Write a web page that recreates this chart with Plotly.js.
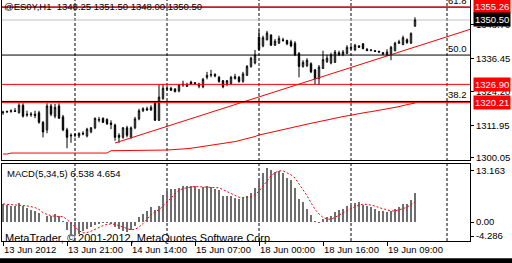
<!DOCTYPE html>
<html><head><meta charset="utf-8">
<script src="https://cdn.plot.ly/plotly-3.0.1.min.js"></script>
<style>html,body{margin:0;padding:0;background:#fff;overflow:hidden}</style>
</head><body><div id="chart" style="width:512px;height:263px"></div>
<script>
// ---------- data ----------
const symbol = '@ES0Y,H1';
const barIndex = Array.from({length:104}, (_, i) => i);
const openP = [1316.50,1316.75,1317.00,1317.25,1316.50,1319.25,1316.00,1315.75,1316.00,1316.50,
1313.00,1310.25,1319.00,1315.25,1319.00,1315.00,1310.25,1308.00,1308.25,1308.00,
1309.00,1308.00,1309.50,1311.00,1313.75,1314.50,1314.00,1312.75,1312.00,1308.25,
1307.50,1311.00,1307.50,1311.00,1314.25,1317.25,1318.00,1317.50,1320.00,1313.75,
1321.75,1325.25,1325.50,1325.25,1324.50,1327.00,1326.75,1327.75,1327.50,1327.00,
1326.00,1329.50,1330.25,1330.50,1329.50,1328.25,1327.25,1327.25,1329.00,1329.50,
1328.00,1330.25,1333.50,1334.75,1344.25,1341.00,1343.25,1345.00,1341.25,1342.00,
1343.25,1343.00,1342.50,1342.00,1338.25,1333.50,1333.75,1334.50,1332.25,1329.00,
1332.75,1335.25,1334.75,1335.00,1338.50,1337.75,1338.25,1340.00,1339.50,1341.00,
1341.75,1339.75,1339.25,1339.25,1339.00,1338.50,1337.75,1338.25,1339.25,1342.00,
1341.50,1343.25,1342.00,1348.25];
const highP = [1317.25,1317.25,1317.75,1318.25,1320.00,1320.00,1317.25,1316.75,1317.25,1317.25,
1313.50,1320.00,1319.75,1319.75,1320.00,1315.75,1311.00,1309.00,1309.00,1309.25,
1309.75,1311.00,1311.25,1314.75,1315.00,1314.75,1314.50,1313.75,1312.50,1309.00,
1311.25,1311.75,1311.50,1315.00,1318.00,1318.50,1318.75,1319.25,1320.75,1326.75,
1327.00,1326.25,1326.00,1325.50,1327.00,1328.25,1327.50,1328.25,1327.75,1327.50,
1329.25,1331.50,1332.25,1331.00,1330.00,1328.50,1328.50,1330.00,1330.75,1330.00,
1331.50,1334.00,1337.00,1339.50,1346.75,1344.75,1346.50,1345.25,1343.50,1344.75,
1344.00,1343.25,1343.25,1342.75,1338.75,1335.75,1336.50,1335.00,1332.50,1334.00,
1339.25,1337.75,1338.50,1339.50,1339.25,1339.50,1341.25,1341.00,1341.75,1341.25,
1342.00,1340.25,1339.75,1339.50,1339.25,1338.75,1339.75,1341.00,1342.50,1343.25,
1344.75,1343.75,1346.00,1351.50];
const lowP = [1315.75,1316.50,1316.50,1316.75,1316.25,1314.75,1315.00,1315.00,1314.50,1312.50,
1307.50,1309.00,1315.25,1314.50,1314.25,1309.75,1303.50,1305.50,1307.50,1307.25,
1308.25,1307.50,1309.00,1310.50,1313.00,1312.75,1312.00,1310.50,1306.25,1305.50,
1307.00,1307.50,1307.00,1310.50,1313.75,1316.75,1317.25,1317.25,1313.50,1313.50,
1321.25,1324.50,1324.50,1324.00,1324.00,1326.00,1326.00,1326.75,1326.75,1325.50,
1325.50,1328.75,1329.50,1329.50,1327.50,1325.50,1326.25,1326.75,1328.75,1327.50,
1327.50,1330.00,1333.00,1334.25,1339.25,1340.50,1343.00,1341.00,1341.00,1341.75,
1342.50,1341.25,1340.50,1337.25,1329.50,1333.00,1333.25,1331.00,1326.75,1326.75,
1332.50,1334.75,1334.25,1334.75,1337.25,1337.25,1338.00,1339.50,1339.25,1340.25,
1339.75,1339.25,1339.25,1338.75,1338.50,1337.75,1337.25,1335.75,1339.00,1341.75,
1341.25,1341.75,1341.75,1348.00];
const closeP = [1316.75,1317.00,1317.25,1317.00,1319.25,1315.25,1315.75,1316.00,1315.50,1313.00,
1309.50,1319.00,1316.00,1318.50,1314.50,1310.25,1307.50,1308.25,1308.50,1309.00,
1308.75,1310.50,1311.00,1314.50,1314.00,1313.00,1312.50,1312.25,1307.50,1307.50,
1311.00,1308.25,1311.00,1314.25,1317.25,1318.00,1317.50,1318.50,1313.75,1322.25,
1325.50,1325.50,1324.75,1324.25,1326.75,1326.75,1326.25,1327.00,1327.25,1326.25,
1328.75,1330.25,1330.50,1330.00,1328.00,1326.00,1328.25,1329.50,1329.75,1328.00,
1330.75,1333.50,1336.50,1337.75,1339.75,1344.00,1345.75,1341.25,1342.75,1343.75,
1343.00,1341.75,1341.00,1337.75,1333.50,1335.00,1335.75,1331.50,1329.00,1333.25,
1336.00,1336.50,1337.75,1338.75,1337.75,1338.75,1340.50,1340.50,1341.25,1340.50,
1340.00,1339.25,1339.50,1339.00,1338.75,1338.00,1338.75,1340.50,1342.00,1342.50,
1344.00,1342.25,1345.50,1350.50];
const maLine = [1301.40,1301.40,1301.75,1301.75,1301.75,1301.75,1301.75,1301.75,1301.75,1301.75,
1301.75,1301.75,1301.75,1301.75,1301.75,1301.75,1301.75,1301.75,1301.75,1301.75,
1301.75,1301.75,1301.75,1301.75,1301.75,1301.75,1301.75,1302.60,1302.60,1302.60,
1302.60,1302.60,1302.60,1302.60,1302.60,1302.60,1302.60,1302.85,1302.85,1302.85,
1302.85,1302.85,1302.95,1303.00,1303.10,1303.20,1303.35,1303.50,1303.70,1303.90,
1304.10,1304.30,1304.50,1304.70,1304.90,1305.10,1305.35,1305.65,1305.95,1306.30,
1306.65,1306.95,1307.25,1307.80,1308.35,1308.70,1309.00,1309.30,1309.60,1309.90,
1310.20,1310.55,1310.90,1311.25,1311.65,1312.00,1312.30,1312.65,1312.95,1313.30,
1313.60,1313.90,1314.20,1314.50,1314.80,1315.10,1315.40,1315.70,1315.95,1316.20,
1316.45,1316.70,1316.90,1317.15,1317.40,1317.60,1317.85,1318.05,1318.40,1318.75,
1319.15,1319.45,1319.75,1320.10];
const macdMain = [4.16,3.93,3.70,3.55,4.23,3.70,3.17,2.80,2.57,2.04,
0.10,1.28,1.28,1.89,1.44,0.30,-1.89,-2.65,-2.87,-2.65,
-2.12,-1.59,-1.13,-0.68,-0.45,-0.15,-0.23,-0.53,-1.21,-1.59,
-1.97,-2.19,-1.74,-0.83,1.13,1.89,2.57,3.40,2.65,3.55,
6.20,6.95,7.56,7.56,7.79,8.09,8.09,8.24,8.09,7.56,
7.94,8.09,7.94,7.56,7.33,5.82,5.82,5.82,5.44,5.22,
5.44,5.97,6.58,7.71,9.45,11.11,12.24,11.87,11.34,11.49,
11.11,9.98,9.60,7.71,5.22,4.46,2.95,1.66,0.15,-0.23,
0.76,1.13,1.44,2.27,2.65,2.95,3.70,3.93,4.23,4.46,
3.93,3.55,3.40,2.95,2.57,2.42,2.19,2.57,2.95,3.40,
4.08,4.08,4.91,6.538];
const macdSignal = [4.10,4.05,4.00,3.95,3.91,3.82,3.67,3.49,3.29,2.86,
2.14,1.76,1.45,1.32,1.20,1.24,0.60,-0.18,-1.13,-1.95,
-2.44,-2.38,-2.07,-1.63,-1.19,-0.80,-0.53,-0.41,-0.51,-0.74,
-1.11,-1.50,-1.74,-1.66,-1.12,-0.35,0.60,1.63,2.33,2.81,
3.67,4.55,5.38,6.36,7.21,7.59,7.82,7.95,8.06,8.01,
7.98,7.98,7.92,7.82,7.77,7.35,6.89,6.47,6.05,5.62,
5.55,5.58,5.73,6.18,7.03,8.16,9.42,10.48,11.20,11.61,
11.61,11.16,10.70,9.98,8.72,7.39,5.99,4.40,2.89,1.80,
1.06,0.69,0.65,1.07,1.65,2.09,2.60,3.10,3.49,3.85,
4.05,4.02,3.91,3.66,3.28,2.98,2.71,2.54,2.54,2.71,
3.04,3.42,3.88,4.654];
const trendX = [28, 120];
const trendY = [1305.43, 1348.58];
const redLevels = [1355.26, 1326.90, 1320.21];
const bidPrice = 1350.50;
const fibLevels = [38.2, 50.0, 61.8];
const fibPrices = [1320.65, 1337.65, 1355.20];
const separatorBars = [18, 41, 64, 87, 111];
const timeTickBars = [0, 16, 32, 48, 64, 80, 96];
const timeTickText = ['13 Jun 2012','13 Jun 21:00','14 Jun 14:00','15 Jun 07:00','18 Jun 00:00','18 Jun 16:00','19 Jun 09:00'];
const priceTicks = [1300.05, 1311.95, 1324.20, 1336.45, 1348.70];
const macdTickText = ['13.163','0.00','-4.286'];

// ---------- drawing ----------
const FONT = 'Liberation Sans, Arial, sans-serif';
const last = closeP.length - 1;
const traces = [
  {type:'candlestick', x:barIndex, open:openP, high:highP, low:lowP, close:closeP,
   xaxis:'x', yaxis:'y', hoverinfo:'skip', whiskerwidth:0,
   increasing:{line:{color:'#000', width:1}, fillcolor:'#ffffff'},
   decreasing:{line:{color:'#000', width:1}, fillcolor:'#000000'}},
  {type:'scatter', mode:'lines', x:barIndex, y:maLine, xaxis:'x', yaxis:'y',
   line:{color:'#ff0000', width:1}, hoverinfo:'skip'},
  {type:'scatter', mode:'lines', x:trendX, y:trendY, xaxis:'x', yaxis:'y',
   line:{color:'#ff0000', width:1}, hoverinfo:'skip'},
  {type:'bar', x:barIndex, y:macdMain, xaxis:'x2', yaxis:'y2', width:0.7,
   marker:{color:'#6e6e6e', line:{width:0}}, hoverinfo:'skip'},
  {type:'scatter', mode:'lines', x:barIndex, y:macdSignal, xaxis:'x2', yaxis:'y2',
   line:{color:'#ff0000', width:1, dash:'2px,2px'}, hoverinfo:'skip'}
];

const shapes = [];
separatorBars.forEach(b => shapes.push({type:'line', xref:'x', yref:'paper', x0:b, x1:b, y0:0, y1:1,
  line:{color:'#000', width:1, dash:'3px,2px'}, layer:'below'}));
fibPrices.forEach(p => shapes.push({type:'line', xref:'paper', yref:'y', x0:0, x1:1, y0:p, y1:p,
  line:{color:'#000', width:1}, layer:'above'}));
shapes.push({type:'line', xref:'paper', yref:'y', x0:0, x1:1, y0:bidPrice, y1:bidPrice,
  line:{color:'#c0c0c0', width:1}, layer:'below'});
redLevels.forEach(p => shapes.push({type:'line', xref:'paper', yref:'y', x0:0, x1:1, y0:p, y1:p,
  line:{color:'#ff0000', width:1}, layer:'above'}));
shapes.push({type:'rect', xref:'paper', yref:'paper', x0:-0.01, x1:1.1, y0:-0.072, y1:-0.12,
  fillcolor:'#000', line:{width:0}});

const annotations = [];
annotations.push({xref:'paper', yref:'paper', x:0, y:1, xanchor:'left', yanchor:'top', xshift:1, yshift:0,
  showarrow:false, borderpad:0, font:{family:FONT, size:9.5, color:'#000'},
  text: symbol + '  ' + openP[last].toFixed(2) + ' ' + highP[last].toFixed(2) + ' ' + lowP[last].toFixed(2) + ' ' + closeP[last].toFixed(2)});
annotations.push({xref:'paper', yref:'paper', x:0, y:0.3195, xanchor:'left', yanchor:'top', xshift:4, yshift:-3,
  showarrow:false, borderpad:0, font:{family:FONT, size:9.5, color:'#000'},
  text: 'MACD(5,34,5) ' + macdMain[last].toFixed(3) + ' ' + macdSignal[last].toFixed(3)});
annotations.push({xref:'paper', yref:'paper', x:0, y:0, xanchor:'left', yanchor:'bottom', xshift:2, yshift:-4,
  showarrow:false, borderpad:0, font:{family:FONT, size:11, color:'#000'},
  text: 'MetaTrader, © 2001-2012, MetaQuotes Software Corp.'});
fibLevels.forEach((f, i) => annotations.push({xref:'paper', yref:'y', x:1, y:fibPrices[i], xanchor:'right', yanchor:'bottom',
  xshift:-2, yshift:0, showarrow:false, borderpad:0, font:{family:FONT, size:9.5, color:'#000'}, text:f.toFixed(1)}));
redLevels.forEach(p => annotations.push({xref:'paper', yref:'y', x:1, y:p, xanchor:'left', yanchor:'middle', xshift:3,
  showarrow:false, borderpad:1, bgcolor:'#ff0000', font:{family:FONT, size:9.5, color:'#fff'}, text:p.toFixed(2)}));
annotations.push({xref:'paper', yref:'y', x:1, y:bidPrice, xanchor:'left', yanchor:'middle', xshift:3,
  showarrow:false, borderpad:1, bgcolor:'#000', font:{family:FONT, size:9.5, color:'#fff'}, text:bidPrice.toFixed(2)});

const axBase = {showgrid:false, zeroline:false, fixedrange:true, linecolor:'#000', linewidth:1, tickcolor:'#000'};
const layout = {
  width:512, height:263, margin:{l:2, r:42, t:0, b:22, pad:0},
  paper_bgcolor:'#fff', plot_bgcolor:'#fff', showlegend:false, boxgap:0.5, bargap:0,
  font:{family:FONT, size:9.5, color:'#000'},
  xaxis:Object.assign({}, axBase, {domain:[0,1], anchor:'y', range:[-0.25,116.75], showline:true, mirror:false,
    showticklabels:false, ticks:'', rangeslider:{visible:false}}),
  yaxis:Object.assign({}, axBase, {domain:[0.3361,1], anchor:'x', range:[1299.20,1357.82], side:'right',
    showline:true, mirror:true, ticks:'outside', ticklen:3,
    tickvals:priceTicks, ticktext:priceTicks.map(v => v.toFixed(2)), tickfont:{family:FONT, size:9.5}}),
  xaxis2:Object.assign({}, axBase, {domain:[0,1], anchor:'y2', range:[-0.25,116.75], showline:true, mirror:true,
    ticks:'outside', ticklen:4, tickvals:timeTickBars, ticktext:timeTickText, ticklabelposition:'outside right',
    tickfont:{family:FONT, size:9.5}}),
  yaxis2:Object.assign({}, axBase, {domain:[0,0.3195], anchor:'x2', range:[-4.286,13.163], side:'right',
    showline:true, mirror:true, ticks:'outside', ticklen:3,
    tickvals:[11.645, 0, -3.153], ticktext:macdTickText, tickfont:{family:FONT, size:9.5}}),
  shapes:shapes, annotations:annotations
};
Plotly.newPlot('chart', traces, layout, {staticPlot:true, displayModeBar:false});
</script></body></html>
